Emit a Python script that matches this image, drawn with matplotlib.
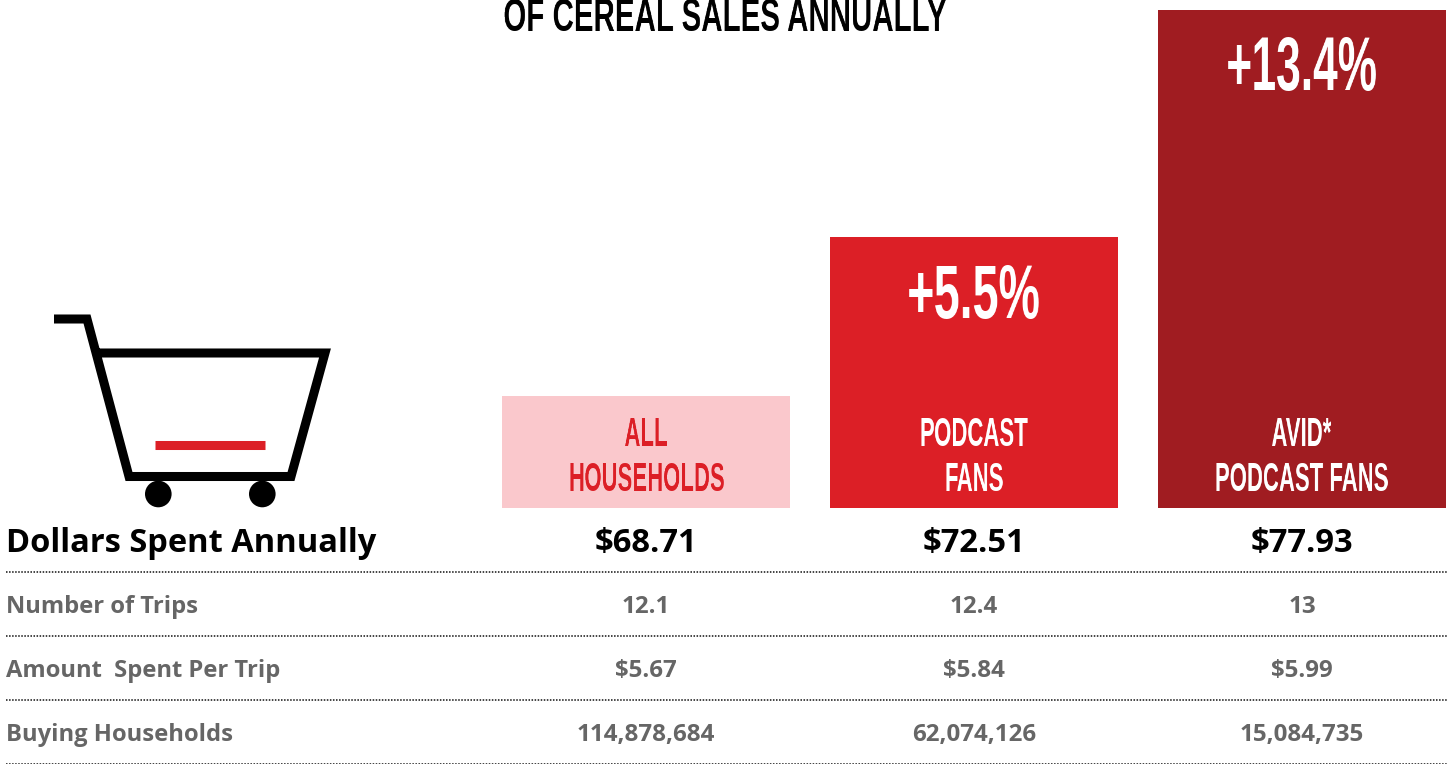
import numpy as np
import matplotlib
matplotlib.use('Agg')
import matplotlib.pyplot as plt
from matplotlib.patches import Circle

# data
groups = ['ALL\nHOUSEHOLDS', 'PODCAST\nFANS', 'AVID*\nPODCAST FANS']
lifts = ['', '+5.5%', '+13.4%']
dollars = [68.71, 72.51, 77.93]
dollar_labels = ['$68.71', '$72.51', '$77.93']
trips = ['12.1', '12.4', '13']
per_trip = ['$5.67', '$5.84', '$5.99']
households = ['114,878,684', '62,074,126', '15,084,735']
row_names = ['Number of Trips', 'Amount  Spent Per Trip', 'Buying Households']
title = 'OF CEREAL SALES ANNUALLY'

# colours
bar_colors = ['#fac8cc', '#dc1f26', '#a01c21']
label_colors = ['#dc1f26', 'white', 'white']
grey = '#666666'

W, H = 1452, 764
centers = [646, 974, 1302]
bar_w = 288
narrow = 'Liberation Sans'
body = 'Open Sans'


# squeeze text sideways, the original face is much more condensed than any we have
def squeeze(f, anchor='center'):
    def filt(img, dpi):
        h, w = img.shape[:2]
        new_w = max(1, int(round(w * f)))
        xs = np.clip((np.arange(new_w) + 0.5) / f - 0.5, 0, w - 1)
        i0 = np.floor(xs).astype(int)
        i1 = np.minimum(i0 + 1, w - 1)
        t = (xs - i0)[None, :, None]
        ox = w - new_w if anchor == 'right' else (w - new_w) // 2
        return img[:, i0] * (1 - t) + img[:, i1] * t, ox, 0
    return filt


fig = plt.figure(figsize=(W / 100, H / 100), dpi=100)

# bars, y axis in dollars
ax_bar = fig.add_axes([0, 0, 1, 1])
px_per_dollar = 41.85
floor = 66.03
ax_bar.set_xlim(0, W)
ax_bar.set_ylim(floor - (H - 508) / px_per_dollar, floor + 508 / px_per_dollar)
ax_bar.bar(centers, np.array(dollars) - floor, bottom=floor, width=bar_w, color=bar_colors)
ax_bar.axis('off')

# everything else in pixels
ax = fig.add_axes([0, 0, 1, 1])
ax.set_xlim(0, W)
ax.set_ylim(H, 0)
ax.axis('off')
ax.patch.set_alpha(0)

t = ax.text(726, 31, title, family=narrow, weight='bold', fontsize=34, color='black',
            ha='center', va='baseline')
t.set_agg_filter(squeeze(0.625))

# cart
ax.plot([54, 87, 129, 291, 325, 96], [319, 319, 476.5, 476.5, 353, 353], color='black', lw=6.5,
        solid_joinstyle='miter', solid_capstyle='butt')
ax.add_patch(Circle((158.3, 494), 13.3, color='black', lw=0))
ax.add_patch(Circle((262.3, 494), 13.3, color='black', lw=0))
ax.plot([155, 265], [445, 445], color='#dc1f26', lw=6.5, solid_capstyle='butt')

for i, c in enumerate(centers):
    lines = groups[i].split('\n')
    t1 = ax.text(c, 446, lines[0], family=narrow, weight='bold', fontsize=29, color=label_colors[i],
                 ha='center', va='baseline')
    t1.set_agg_filter(squeeze(0.55))
    if i == 2:
        # would run off the figure before squeezing, so hang it from the right end
        t2 = ax.text(1390, 491, lines[1], family=narrow, weight='bold', fontsize=29, color=label_colors[i],
                     ha='right', va='baseline')
        t2.set_agg_filter(squeeze(0.55, 'right'))
    else:
        t2 = ax.text(c, 491, lines[1], family=narrow, weight='bold', fontsize=29, color=label_colors[i],
                     ha='center', va='baseline')
        t2.set_agg_filter(squeeze(0.55))
    ax.text(c, 552, dollar_labels[i], family=body, weight='bold', fontsize=23.6, color='black',
            ha='center', va='baseline')
    ax.text(c, 613, trips[i], family=body, weight='bold', fontsize=17.4, color=grey, ha='center', va='baseline')
    ax.text(c, 677, per_trip[i], family=body, weight='bold', fontsize=17.4, color=grey, ha='center', va='baseline')
    ax.text(c, 741, households[i], family=body, weight='bold', fontsize=17.4, color=grey, ha='center', va='baseline')

lift_y = [0, 318, 90]
lift_f = [0, 0.61, 0.58]
for i in [1, 2]:
    t = ax.text(centers[i], lift_y[i], lifts[i], family=narrow, weight='bold', fontsize=55, color='white',
                ha='center', va='baseline')
    t.set_agg_filter(squeeze(lift_f[i]))

ax.text(6.5, 552, 'Dollars Spent Annually', family=body, weight='bold', fontsize=23.5, color='black', va='baseline')
for name, y in zip(row_names, [613, 677, 741]):
    ax.text(6.5, y, name, family=body, weight='bold', fontsize=17.1, color=grey, va='baseline')

# dotted rules
for y in [572, 636, 700, 763.5]:
    ax.plot([6, 1447], [y, y], color='#111111', lw=1.1, linestyle=(0, (1, 1)))

fig.savefig('out.png', dpi=100)
